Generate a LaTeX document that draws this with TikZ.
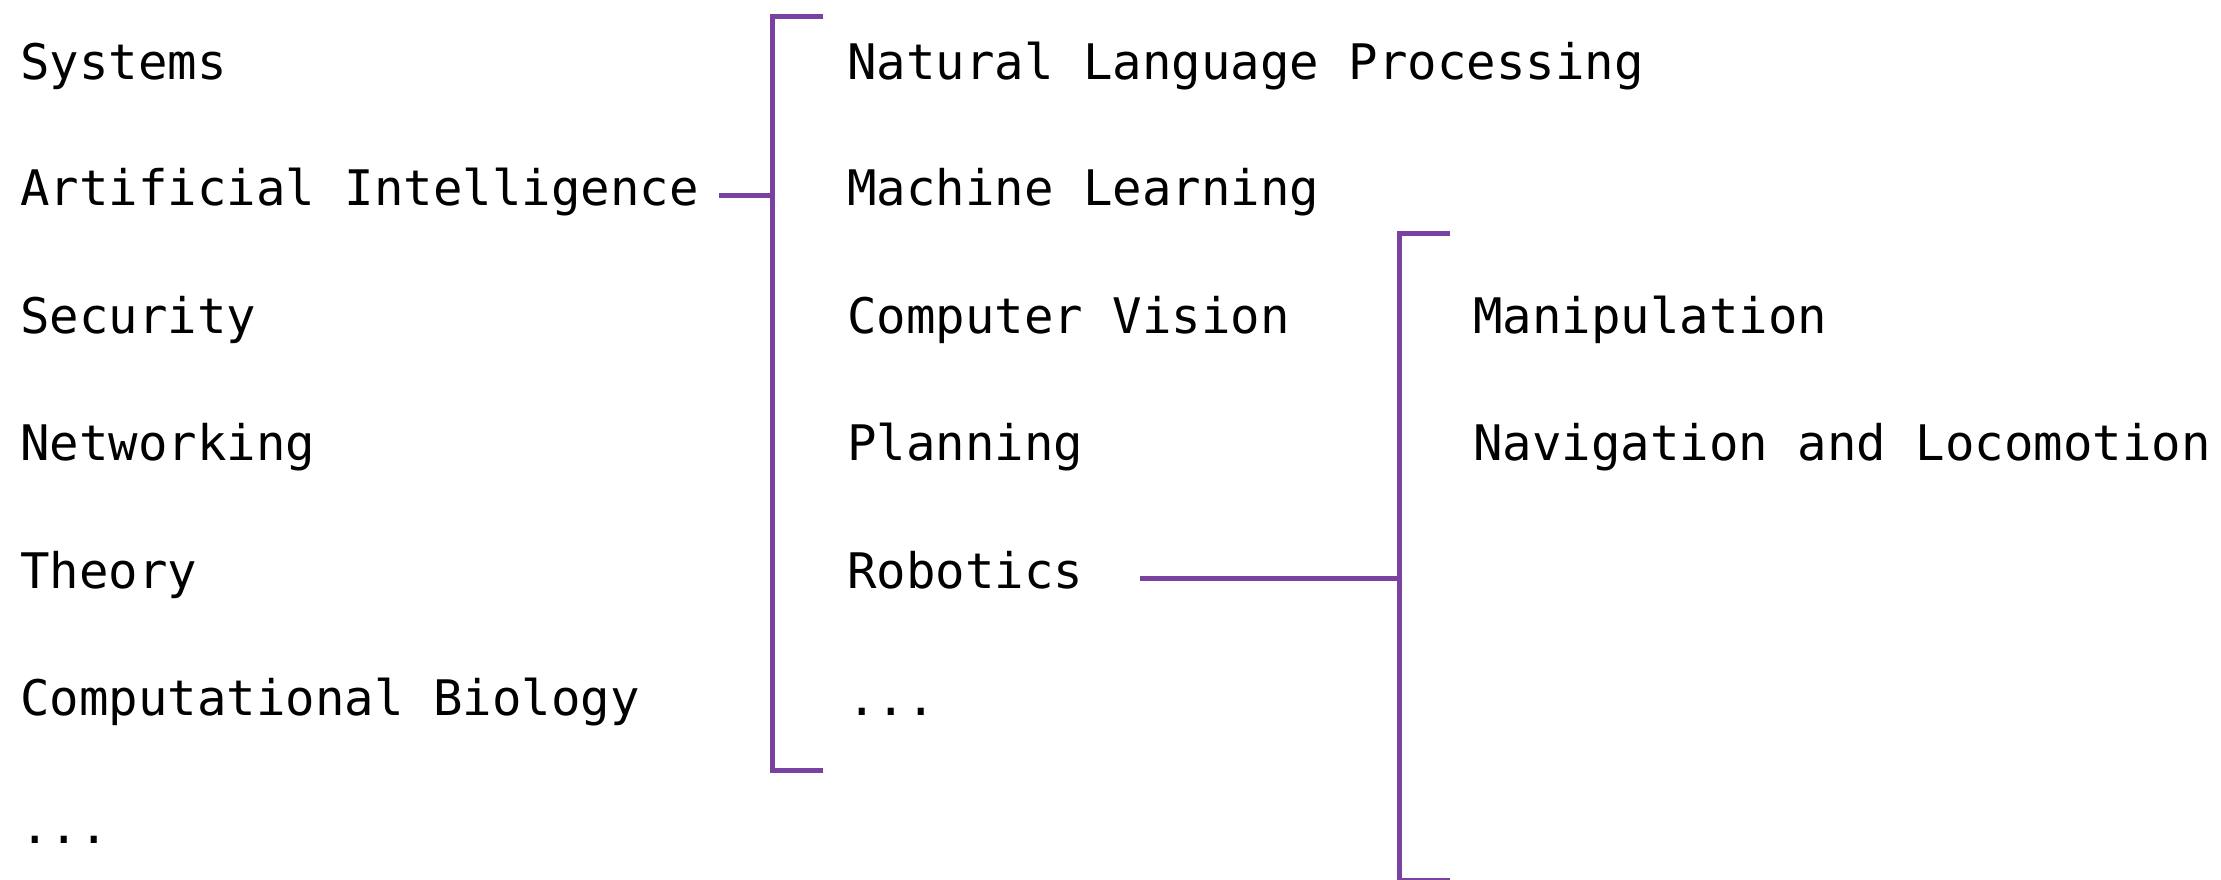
\documentclass[tikz,border=0pt]{standalone}
\usepackage{fontspec}
\newfontfamily\monofont{DejaVu Sans Mono}
\definecolor{branch}{RGB}{122,66,160}
\begin{document}
\begin{tikzpicture}[x=1pt,y=-1pt,
  item/.style={anchor=base west,inner sep=0pt,text height=36pt,text depth=16pt,
    font=\monofont\fontsize{49pt}{58pt}\selectfont},
  link/.style={draw=branch,line width=5pt}]
\useasboundingbox (0,0) rectangle (2221,880);

% left column: research areas
\node[item] (sys)  at (20,80)    {Systems};
\node[item] (ai)   at (20,205.5) {Artificial Intelligence};
\node[item] (sec)  at (20,333)   {Security};
\node[item] (net)  at (20,460.5) {Networking};
\node[item] (thy)  at (20,588)   {Theory};
\node[item] (bio)  at (20,715.5) {Computational Biology};
\node[item] (more) at (20,843)   {...};

% middle column: fields of AI
\node[item] (nlp)  at (847,80)    {Natural Language Processing};
\node[item] (ml)   at (847,205.5) {Machine Learning};
\node[item] (cv)   at (847,333)   {Computer Vision};
\node[item] (plan) at (847,460.5) {Planning};
\node[item] (rob)  at (847,588)   {Robotics};
\node[item] (aimore) at (847,715.5) {...};

% right column: topics in robotics
\node[item] (manip) at (1473,333)   {Manipulation};
\node[item] (nav)   at (1473,460.5) {Navigation and Locomotion};

% bracket for AI
\coordinate (b1top) at (772,17);
\coordinate (b1bot) at (772,770);
\coordinate (b1mid) at (ai.east -| b1top);
\draw[link] ([xshift=51pt]b1top) -- (b1top) -- (b1bot) -- ([xshift=51pt]b1bot);
\draw[link,shorten <=20pt] (ai.east) -- (b1mid);

% bracket for Robotics
\coordinate (b2top) at (1399,233);
\coordinate (b2bot) at (1399,880.5);
\coordinate (b2mid) at (rob.east -| b2top);
\draw[link] ([xshift=51pt]b2top) -- (b2top) -- (b2bot) -- ([xshift=51pt]b2bot);
\draw[link,shorten <=57pt] (rob.east) -- (b2mid);
\end{tikzpicture}
\end{document}
